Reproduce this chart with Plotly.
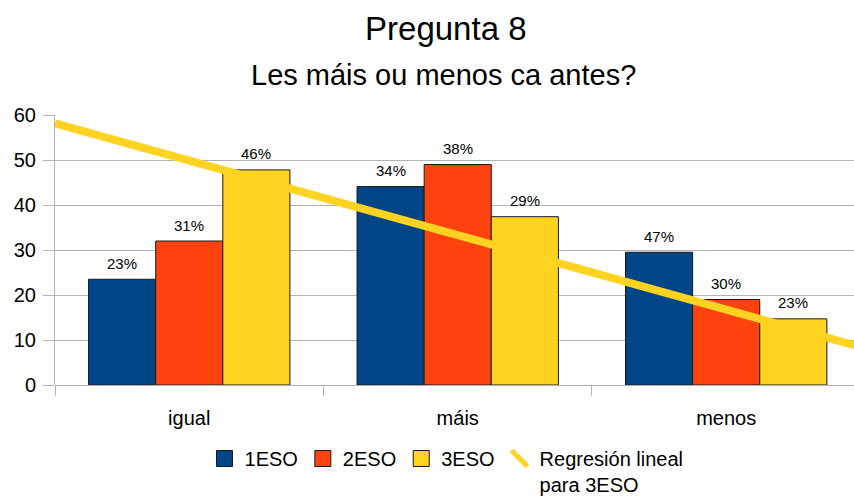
import numpy as np
import plotly.graph_objects as go

categories = ["igual", "máis", "menos"]
series_names = ["1ESO", "2ESO", "3ESO"]
eso1 = [23.5, 44.1, 29.5]
eso2 = [32.0, 49.0, 19.0]
eso3 = [47.8, 37.4, 14.7]
labels1 = ["23%", "34%", "47%"]
labels2 = ["31%", "38%", "30%"]
labels3 = ["46%", "29%", "23%"]
colors = ["#004586", "#ff420e", "#ffd320"]
y_ticks = [0, 10, 20, 30, 40, 50, 60]
trend_name = "Regresión lineal<br>para 3ESO"

xpos = list(range(len(categories)))
FONT = "Liberation Sans, Arial, sans-serif"
GRID = "#b3b3b3"
BARGAP = 0.25

fig = go.Figure()
annotations = []
n_series = len(series_names)
bar_w = (1 - BARGAP) / n_series
for j, (name, vals, labs, col) in enumerate(zip(series_names, [eso1, eso2, eso3],
                                                [labels1, labels2, labels3], colors)):
    fig.add_trace(go.Bar(
        x=xpos, y=vals, name=name,
        marker=dict(color=col, line=dict(color="#1a1a1a", width=1)),
        showlegend=False,
    ))
    for xi, v, lab in zip(xpos, vals, labs):
        annotations.append(dict(
            x=xi + (j - (n_series - 1) / 2) * bar_w, y=v, xref="x", yref="y",
            text=lab, showarrow=False, yanchor="middle", yshift=16,
            font=dict(size=15, family=FONT, color="#000"),
        ))

# legend proxies with square symbols
for name, col in zip(series_names, colors):
    fig.add_trace(go.Scatter(
        x=[None], y=[None], mode="markers", name=name,
        marker=dict(symbol="square", size=16, color=col,
                    line=dict(color="#1a1a1a", width=1)),
    ))

# linear regression for 3ESO computed from the data
slope, intercept = np.polyfit(xpos, eso3, 1)
x_line = np.array([-0.5, len(categories) - 0.5])
fig.add_trace(go.Scatter(
    x=x_line, y=slope * x_line + intercept, mode="lines",
    name=trend_name, showlegend=False,
    line=dict(color="#ffd320", width=8),
))
# legend proxy: diagonal line symbol
fig.add_trace(go.Scatter(
    x=[None], y=[None], mode="markers", name=trend_name,
    marker=dict(symbol="line-nw", size=16, color="#ffd320",
                line=dict(color="#ffd320", width=6)),
))

annotations.append(dict(text="Les máis ou menos ca antes?", xref="paper", yref="paper",
                        x=0.486, y=(385 - 75) / 270, xanchor="center", yanchor="middle",
                        showarrow=False, font=dict(size=29, family=FONT, color="#000")))

fig.update_layout(
    width=854, height=502,
    margin=dict(l=55, r=0, t=115, b=117, autoexpand=False),
    paper_bgcolor="white", plot_bgcolor="white",
    font=dict(family=FONT, color="#000", size=20),
    barmode="group", bargap=BARGAP, bargroupgap=0,
    title=dict(text="Pregunta 8", x=0.522, xanchor="center",
               y=1 - 28.5 / 502, yanchor="middle", yref="container",
               font=dict(size=33, family=FONT, color="#000")),
    annotations=annotations,
    legend=dict(orientation="h", x=0.49, xanchor="center", y=-0.2, yanchor="top",
                font=dict(size=20, family=FONT, color="#000"),
                itemsizing="trace", valign="top"),
    xaxis=dict(
        range=[-0.5, 2.476], tickmode="array", tickvals=xpos, ticktext=categories,
        ticks="", showgrid=False, zeroline=False, automargin=False,
        showline=False, ticklabelstandoff=19,
        tickfont=dict(size=20, family=FONT, color="#000"),
        minor=dict(tick0=-0.5, dtick=1, ticks="outside", ticklen=10,
                   tickcolor=GRID, tickwidth=1, showgrid=False),
    ),
    yaxis=dict(
        range=[0, 60], tickvals=y_ticks, showgrid=True, gridcolor=GRID, gridwidth=1,
        ticks="outside", ticklen=11, tickcolor=GRID, zeroline=True, zerolinecolor=GRID,
        zerolinewidth=1, showline=True, linecolor=GRID, linewidth=1,
        ticklabelstandoff=3, automargin=False,
        tickfont=dict(size=20, family=FONT, color="#000"),
    ),
)

fig.write_html("out.html", config={"displayModeBar": False},
               post_script="document.body.style.margin='0px';")
